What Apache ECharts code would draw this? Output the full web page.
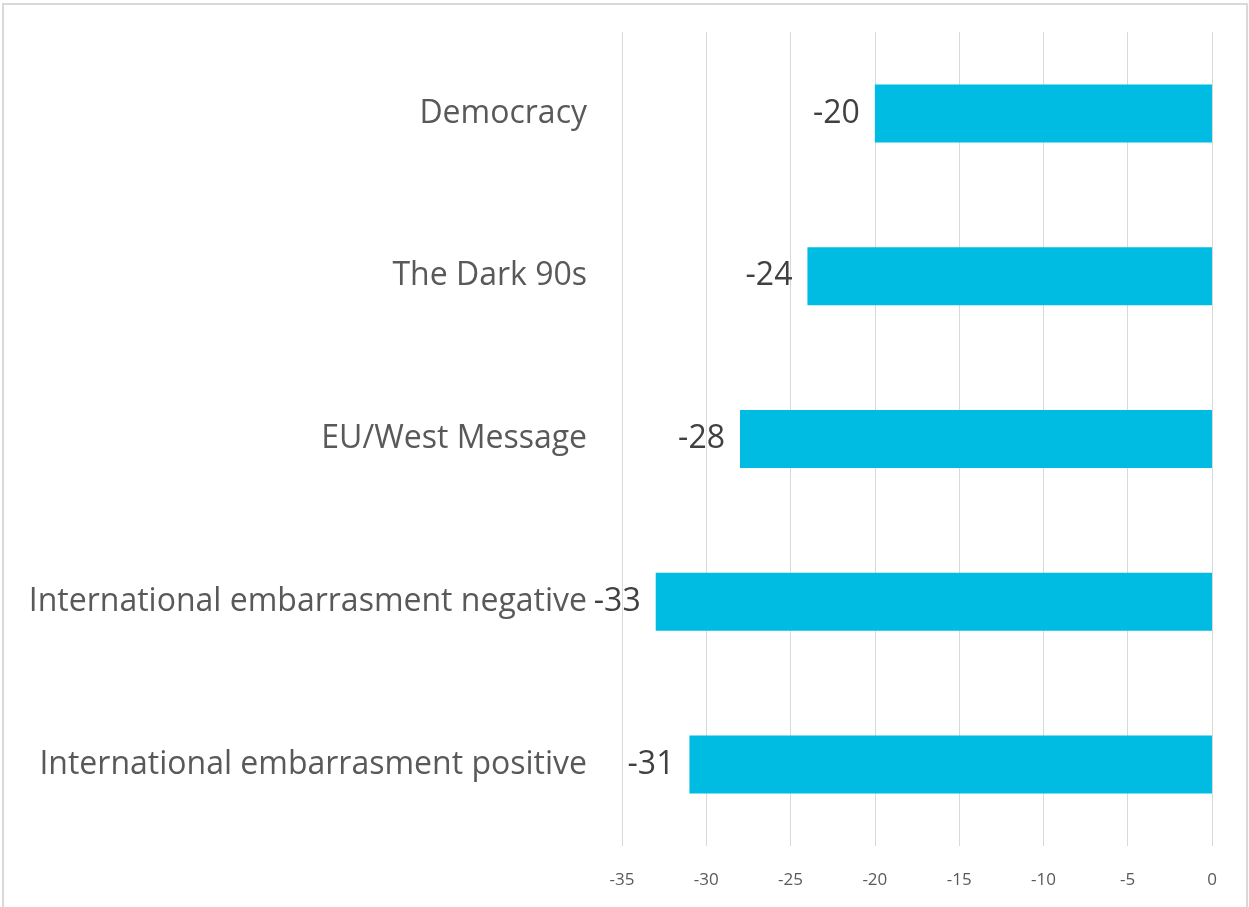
<!DOCTYPE html>
<html>
<head>
<meta charset="utf-8">
<script src="https://cdn.jsdelivr.net/npm/echarts@6/dist/echarts.min.js"></script>
<style>
  html, body { margin: 0; padding: 0; background: #fff; }
  #frame { position: absolute; left: 2px; top: 3px; width: 1246px; height: 910px; border: 2px solid #d9d9d9; box-sizing: border-box; }
  #chart { position: absolute; left: 0; top: 0; width: 1249px; height: 907px; }
</style>
</head>
<body>
<div id="frame"></div>
<div id="chart"></div>
<script>
// Topics, listed top to bottom
const categories = [
  'Democracy',
  'The Dark 90s',
  'EU/West Message',
  'International embarrasment negative',
  'International embarrasment positive'
];
const values = [-20, -24, -28, -33, -31];
const axisMin = -35;
const axisMax = 0;
const axisStep = 5;

const chart = echarts.init(document.getElementById('chart'), null, { renderer: 'canvas' });
chart.setOption({
  animation: false,
  grid: { left: 622, right: 37, top: 32, bottom: 61, containLabel: false },
  xAxis: {
    type: 'value',
    min: axisMin,
    max: axisMax,
    interval: axisStep,
    axisLine: { show: false },
    axisTick: { show: false },
    splitLine: { show: true, lineStyle: { color: '#d9d9d9', width: 1 } },
    axisLabel: { color: '#595959', fontSize: 17, fontFamily: 'Open Sans', margin: 26 }
  },
  yAxis: {
    type: 'category',
    data: categories,
    inverse: true,
    axisLine: { show: false, onZero: false },
    axisTick: { show: false },
    position: 'left',
    axisLabel: { color: '#595959', fontSize: 32, fontFamily: 'Open Sans', margin: 35 }
  },
  series: [{
    type: 'bar',
    data: values,
    barWidth: 58,
    itemStyle: { color: '#00BCE2' },
    label: {
      show: true,
      position: 'left',
      distance: 15,
      color: '#404040',
      fontSize: 32,
      fontFamily: 'Open Sans'
    }
  }]
});
</script>
</body>
</html>
